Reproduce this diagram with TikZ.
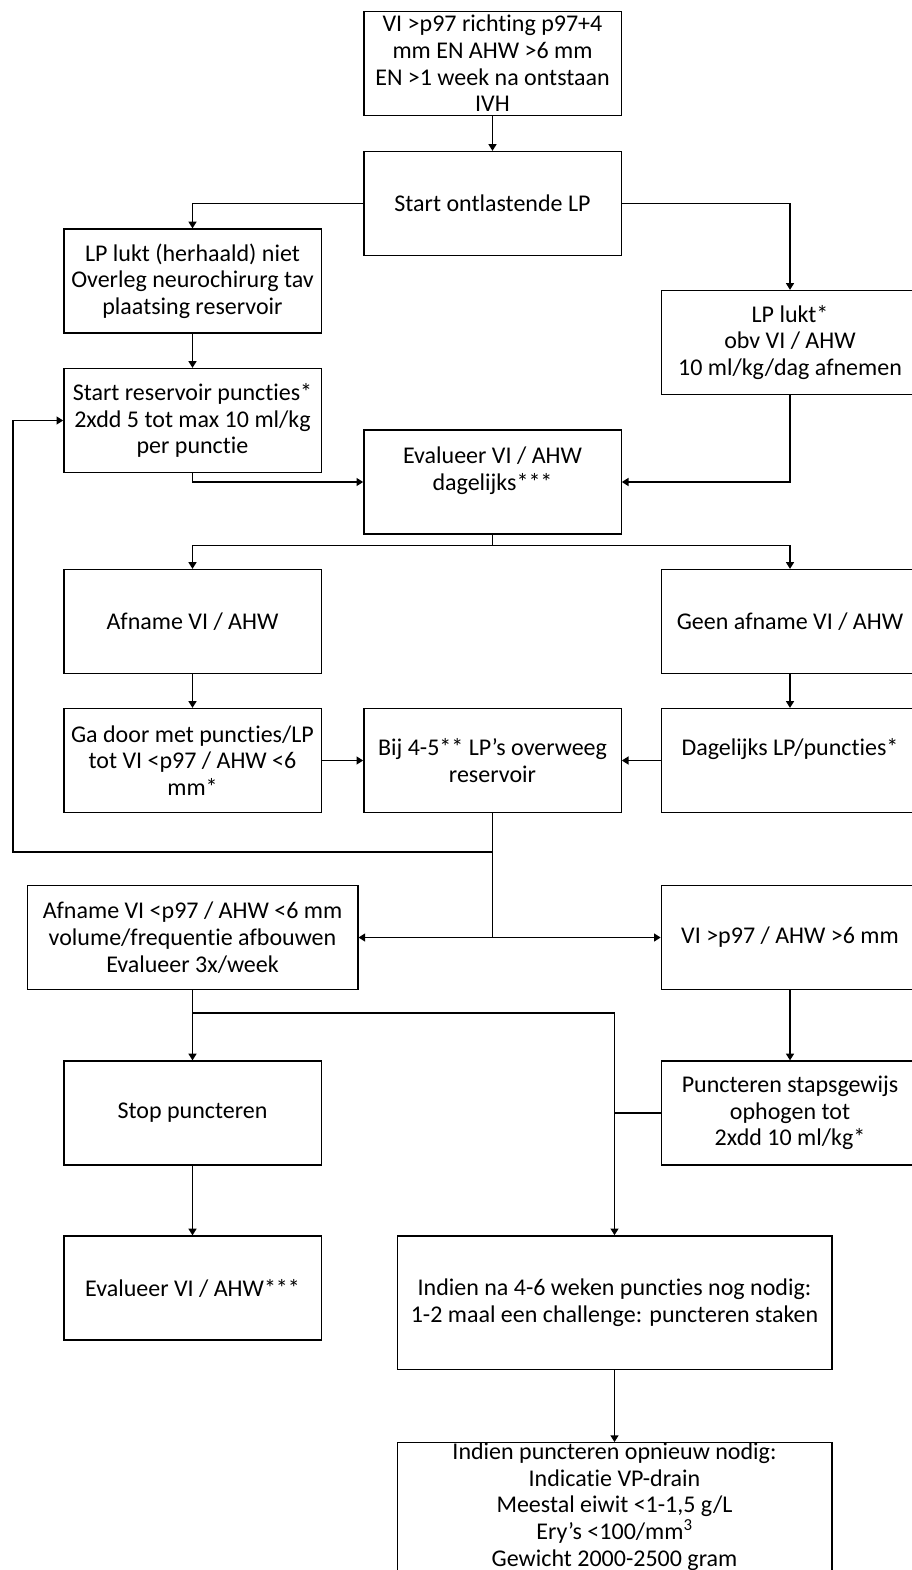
\documentclass[tikz,border=0pt]{standalone}
\usepackage{fontspec}
\setmainfont{Carlito}[Ligatures={NoCommon}]
\usetikzlibrary{arrows.meta}

\begin{document}
\begin{tikzpicture}[x=0.75pt, y=-0.75pt,
		box/.style={draw, line width=1pt, minimum width=193pt, minimum height=78pt, align=center, inner sep=2pt, font=\fontsize{18}{20}\selectfont},
		widebox/.style={box, minimum width=326pt},
		arr/.style={line width=1pt, -{Triangle[length=5pt, width=6pt]}},
		lin/.style={line width=1pt}]
			%%%%% START %%%%%
			
			\useasboundingbox (0, 0) rectangle (912, 1570);
			
			\node[box] (top) at (492.5, 63.5) {VI >p97 richting p97+4\\mm EN AHW >6 mm\\EN >1 week na ontstaan\\IVH};
			\node[box] (start) at (492.5, 203.5) {Start ontlastende LP};
			
			\node[box] (lpfail) at (192.5, 281) {LP lukt (herhaald) niet\\Overleg neurochirurg tav\\plaatsing reservoir};
			\node[box] (lpok) at (790, 342.5) {LP lukt*\\obv VI / AHW\\10 ml/kg/dag afnemen};
			\node[box] (reservoir) at (192.5, 420.5) {Start reservoir puncties*\\2xdd 5 tot max 10 ml/kg\\per punctie};
			\node[box] (evaldaily) at (492.5, 482) {Evalueer VI / AHW\\dagelijks***\\\mbox{}};
			
			\node[box] (afname) at (192.5, 621.5) {Afname VI / AHW};
			\node[box] (geen) at (790, 621.5) {Geen afname VI / AHW};
			
			\node[box] (gadoor) at (192.5, 760.5) {Ga door met puncties/LP\\tot VI <p97 / AHW <6\\mm*};
			\node[box] (bij) at (492.5, 760.5) {Bij 4-5** LP’s overweeg\\reservoir};
			\node[box] (dagelijks) at (790, 760.5) {Dagelijks LP/puncties*\\\mbox{}};
			
			\node[box, minimum width=248pt] (afnamelt) at (192.5, 937.5) {Afname VI <p97 / AHW <6 mm\\volume/frequentie afbouwen\\Evalueer 3x/week};
			\node[box] (vigt) at (790, 937.5) {VI >p97 / AHW >6 mm};
			
			\node[box] (stop) at (192.5, 1113) {Stop puncteren};
			\node[box] (punct) at (790, 1113) {Puncteren stapsgewijs\\ophogen tot\\2xdd 10 ml/kg*};
			
			\node[box] (evalahw) at (192.5, 1288) {Evalueer VI / AHW***};
			\node[widebox, minimum height=100pt] (indien) at (614.5, 1302.5) {Indien na 4-6 weken puncties nog nodig:\\1-2 maal een challenge: puncteren staken};
			\node[widebox, anchor=north, inner ysep=0pt] (opnieuw) at (614.5, 1442) {\parbox[c][150pt][t]{320pt}{\centering Indien puncteren opnieuw nodig:\\Indicatie VP-drain\\Meestal eiwit <1-1,5 g/L\\Ery’s <100/mm\textsuperscript{3}\\Gewicht 2000-2500 gram}};
			
			\coordinate (loop) at (13, 852);
			\coordinate (split) at (614.5, 1013);
			
			\draw[arr] (top) -- (start);
			\draw[arr] (start.west) -| (lpfail.north);
			\draw[arr] (start.east) -| (lpok.north);
			\draw[arr] (lpfail) -- (reservoir);
			\draw[arr] (reservoir.south) |- (evaldaily.west);
			\draw[arr] (lpok.south) |- (evaldaily.east);
			
			\draw[arr] (evaldaily.south) -- ++(0, 11) -| (afname.north);
			\draw[arr] (evaldaily.south) -- ++(0, 11) -| (geen.north);
			\draw[arr] (afname) -- (gadoor);
			\draw[arr] (geen) -- (dagelijks);
			\draw[arr] (gadoor) -- (bij);
			\draw[arr] (dagelijks) -- (bij);
			
			\draw[arr] (bij.south |- loop) -- (loop) |- (reservoir.west);
			\draw[arr] (bij.south) |- (afnamelt.east);
			\draw[arr] (bij.south) |- (vigt.west);
			\draw[arr] (vigt) -- (punct);
			
			\draw[arr] (afnamelt) -- (stop);
			\draw[arr] (afnamelt.south |- split) -- (split) -- (indien.north);
			\draw[lin] (punct.west) -- (punct.west -| split);
			\draw[arr] (stop) -- (evalahw);
			\draw[arr] (indien) -- (opnieuw);
			
			%%%%% END %%%%%
		\end{tikzpicture}
\end{document}
